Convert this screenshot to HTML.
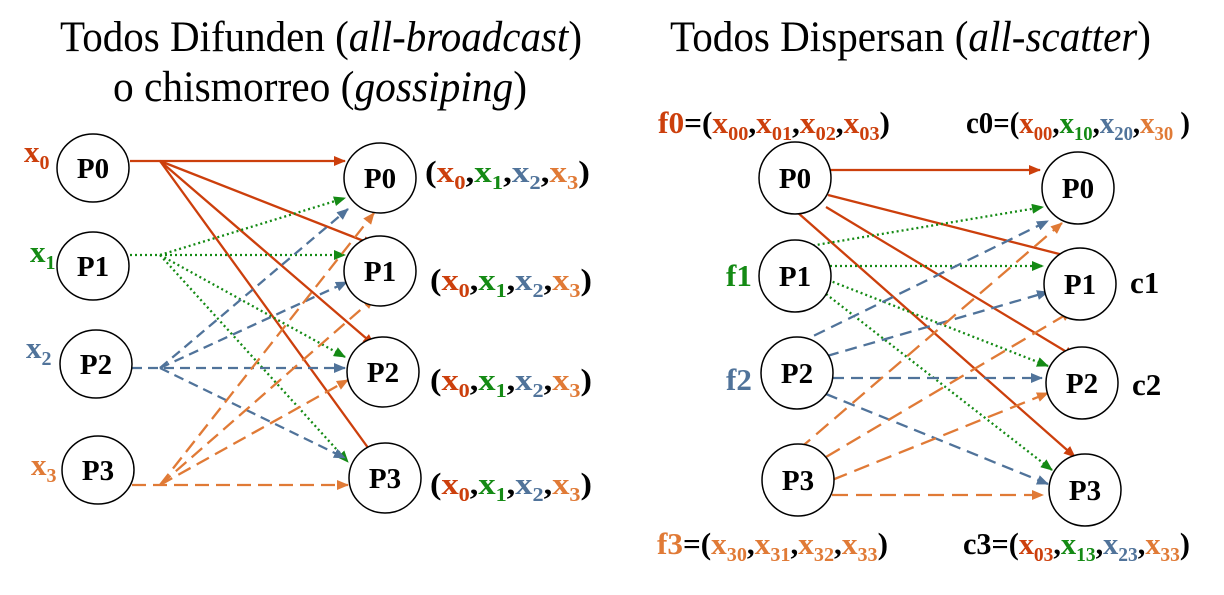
<!DOCTYPE html>
<html><head><meta charset="utf-8"><style>
html,body{margin:0;padding:0;background:#fff;width:1224px;height:595px;overflow:hidden}
svg{display:block}
.t{font-family:"Liberation Serif",serif;font-size:43px;fill:#000}
.n{font-family:"Liberation Serif",serif;font-size:29px;font-weight:bold;fill:#000;text-anchor:middle}
.l{font-family:"Liberation Serif",serif;font-size:31px;font-weight:bold}
.s{font-size:20px}
</style></head><body>
<svg width="1224" height="595" viewBox="0 0 1224 595" xmlns="http://www.w3.org/2000/svg">
<defs>
<marker id="ar" markerWidth="12" markerHeight="10" refX="11" refY="5" orient="auto" markerUnits="userSpaceOnUse"><path d="M0,0L12,5L0,10z" fill="#cc3f0c"/></marker>
<marker id="ag" markerWidth="12" markerHeight="10" refX="11" refY="5" orient="auto" markerUnits="userSpaceOnUse"><path d="M0,0L12,5L0,10z" fill="#148a14"/></marker>
<marker id="ab" markerWidth="12" markerHeight="10" refX="11" refY="5" orient="auto" markerUnits="userSpaceOnUse"><path d="M0,0L12,5L0,10z" fill="#50739a"/></marker>
<marker id="ao" markerWidth="12" markerHeight="10" refX="11" refY="5" orient="auto" markerUnits="userSpaceOnUse"><path d="M0,0L12,5L0,10z" fill="#e07a36"/></marker>
</defs>
<text class="t" x="60" y="51" textLength="522" lengthAdjust="spacingAndGlyphs">Todos Difunden (<tspan font-style="italic">all-broadcast</tspan>)</text>
<text class="t" x="113" y="101" textLength="414" lengthAdjust="spacingAndGlyphs">o chismorreo (<tspan font-style="italic">gossiping</tspan>)</text>
<text class="t" x="670" y="51" textLength="481" lengthAdjust="spacingAndGlyphs">Todos Dispersan (<tspan font-style="italic">all-scatter</tspan>)</text>

<g fill="none" stroke-width="2.3">
<g stroke="#cc3f0c">
<line x1="130" y1="161" x2="345" y2="161" marker-end="url(#ar)"/>
<line x1="160" y1="161" x2="374" y2="245" marker-end="url(#ar)"/>
<line x1="160" y1="161" x2="374" y2="345" marker-end="url(#ar)"/>
<line x1="160" y1="161" x2="374" y2="456" marker-end="url(#ar)"/>
</g>
<g stroke="#148a14" stroke-dasharray="2,3">
<line x1="130" y1="255" x2="160" y2="255"/>
<line x1="160" y1="255" x2="345" y2="198" marker-end="url(#ag)"/>
<line x1="160" y1="255" x2="345" y2="255" marker-end="url(#ag)"/>
<line x1="160" y1="255" x2="345" y2="357" marker-end="url(#ag)"/>
<line x1="160" y1="255" x2="348" y2="462" marker-end="url(#ag)"/>
</g>
<g stroke="#50739a" stroke-dasharray="10,6">
<line x1="160" y1="368" x2="348" y2="209" marker-end="url(#ab)"/>
<line x1="160" y1="368" x2="347" y2="282" marker-end="url(#ab)"/>
<line x1="132" y1="368" x2="345" y2="368" marker-end="url(#ab)"/>
<line x1="160" y1="368" x2="345" y2="458" marker-end="url(#ab)"/>
</g>
<g stroke="#e07a36" stroke-dasharray="14,7">
<line x1="160" y1="485" x2="374" y2="213" marker-end="url(#ao)"/>
<line x1="160" y1="485" x2="374" y2="298" marker-end="url(#ao)"/>
<line x1="160" y1="485" x2="348" y2="380" marker-end="url(#ao)"/>
<line x1="132" y1="485" x2="348" y2="485" marker-end="url(#ao)"/>
</g>
</g>
<g fill="#fff" stroke="#000" stroke-width="1.5">
<ellipse cx="93" cy="168" rx="36" ry="34"/>
<ellipse cx="93" cy="266" rx="36" ry="34"/>
<ellipse cx="96" cy="364" rx="36" ry="34"/>
<ellipse cx="98" cy="470" rx="36" ry="34"/>
<ellipse cx="380" cy="178" rx="36" ry="35"/>
<ellipse cx="380" cy="271" rx="36" ry="35"/>
<ellipse cx="383" cy="372" rx="36" ry="35"/>
<ellipse cx="385" cy="478" rx="36" ry="35"/>
</g>
<text class="n" x="93" y="178">P0</text>
<text class="n" x="93" y="276">P1</text>
<text class="n" x="96" y="374">P2</text>
<text class="n" x="98" y="480">P3</text>
<text class="n" x="380" y="188">P0</text>
<text class="n" x="380" y="281">P1</text>
<text class="n" x="383" y="382">P2</text>
<text class="n" x="385" y="488">P3</text>
<text class="l" x="24" y="162" fill="#cc3f0c">x<tspan class="s" dy="7">0</tspan></text>
<text class="l" x="30" y="262" fill="#148a14">x<tspan class="s" dy="7">1</tspan></text>
<text class="l" x="26" y="358" fill="#50739a">x<tspan class="s" dy="7">2</tspan></text>
<text class="l" x="31" y="475" fill="#e07a36">x<tspan class="s" dy="7">3</tspan></text>

<text class="l" x="425" y="182" textLength="165" lengthAdjust="spacingAndGlyphs">(<tspan fill="#cc3f0c">x</tspan><tspan class="s" fill="#cc3f0c" dy="7">0</tspan><tspan dy="-7">,</tspan><tspan fill="#148a14">x</tspan><tspan class="s" fill="#148a14" dy="7">1</tspan><tspan dy="-7">,</tspan><tspan fill="#50739a">x</tspan><tspan class="s" fill="#50739a" dy="7">2</tspan><tspan dy="-7">,</tspan><tspan fill="#e07a36">x</tspan><tspan class="s" fill="#e07a36" dy="7">3</tspan><tspan dy="-7">)</tspan></text>
<text class="l" x="430" y="290" textLength="162" lengthAdjust="spacingAndGlyphs">(<tspan fill="#cc3f0c">x</tspan><tspan class="s" fill="#cc3f0c" dy="7">0</tspan><tspan dy="-7">,</tspan><tspan fill="#148a14">x</tspan><tspan class="s" fill="#148a14" dy="7">1</tspan><tspan dy="-7">,</tspan><tspan fill="#50739a">x</tspan><tspan class="s" fill="#50739a" dy="7">2</tspan><tspan dy="-7">,</tspan><tspan fill="#e07a36">x</tspan><tspan class="s" fill="#e07a36" dy="7">3</tspan><tspan dy="-7">)</tspan></text>
<text class="l" x="430" y="390" textLength="162" lengthAdjust="spacingAndGlyphs">(<tspan fill="#cc3f0c">x</tspan><tspan class="s" fill="#cc3f0c" dy="7">0</tspan><tspan dy="-7">,</tspan><tspan fill="#148a14">x</tspan><tspan class="s" fill="#148a14" dy="7">1</tspan><tspan dy="-7">,</tspan><tspan fill="#50739a">x</tspan><tspan class="s" fill="#50739a" dy="7">2</tspan><tspan dy="-7">,</tspan><tspan fill="#e07a36">x</tspan><tspan class="s" fill="#e07a36" dy="7">3</tspan><tspan dy="-7">)</tspan></text>
<text class="l" x="430" y="494" textLength="162" lengthAdjust="spacingAndGlyphs">(<tspan fill="#cc3f0c">x</tspan><tspan class="s" fill="#cc3f0c" dy="7">0</tspan><tspan dy="-7">,</tspan><tspan fill="#148a14">x</tspan><tspan class="s" fill="#148a14" dy="7">1</tspan><tspan dy="-7">,</tspan><tspan fill="#50739a">x</tspan><tspan class="s" fill="#50739a" dy="7">2</tspan><tspan dy="-7">,</tspan><tspan fill="#e07a36">x</tspan><tspan class="s" fill="#e07a36" dy="7">3</tspan><tspan dy="-7">)</tspan></text>

<g fill="none" stroke-width="2.3">
<g stroke="#cc3f0c">
<line x1="830" y1="170" x2="1040" y2="170" marker-end="url(#ar)"/>
<line x1="828" y1="195" x2="1075" y2="258" marker-end="url(#ar)"/>
<line x1="826" y1="207" x2="1075" y2="357" marker-end="url(#ar)"/>
<line x1="797" y1="212" x2="1075" y2="457" marker-end="url(#ar)"/>
</g>
<g stroke="#148a14" stroke-dasharray="2,3">
<line x1="798" y1="248" x2="1043" y2="207" marker-end="url(#ag)"/>
<line x1="830" y1="266" x2="1043" y2="266" marker-end="url(#ag)"/>
<line x1="828" y1="280" x2="1048" y2="366" marker-end="url(#ag)"/>
<line x1="826" y1="294" x2="1052" y2="470" marker-end="url(#ag)"/>
</g>
<g stroke="#50739a" stroke-dasharray="12,7">
<line x1="797" y1="344" x2="1048" y2="221" marker-end="url(#ab)"/>
<line x1="827" y1="356" x2="1048" y2="292" marker-end="url(#ab)"/>
<line x1="832" y1="378" x2="1042" y2="378" marker-end="url(#ab)"/>
<line x1="826" y1="394" x2="1048" y2="484" marker-end="url(#ab)"/>
</g>
<g stroke="#e07a36" stroke-dasharray="16,8">
<line x1="798" y1="450" x2="1062" y2="223" marker-end="url(#ao)"/>
<line x1="826" y1="457" x2="1072" y2="311" marker-end="url(#ao)"/>
<line x1="832" y1="480" x2="1048" y2="393" marker-end="url(#ao)"/>
<line x1="832" y1="495" x2="1043" y2="495" marker-end="url(#ao)"/>
</g>
</g>
<g fill="#fff" stroke="#000" stroke-width="1.5">
<ellipse cx="795" cy="178" rx="36" ry="36"/>
<ellipse cx="795" cy="276" rx="36" ry="36"/>
<ellipse cx="797" cy="373" rx="36" ry="36"/>
<ellipse cx="798" cy="480" rx="36" ry="36"/>
<ellipse cx="1078" cy="188" rx="36" ry="36"/>
<ellipse cx="1080" cy="284" rx="36" ry="36"/>
<ellipse cx="1082" cy="383" rx="36" ry="36"/>
<ellipse cx="1085" cy="490" rx="36" ry="36"/>
</g>
<text class="n" x="795" y="188">P0</text>
<text class="n" x="795" y="286">P1</text>
<text class="n" x="797" y="383">P2</text>
<text class="n" x="798" y="490">P3</text>
<text class="n" x="1078" y="198">P0</text>
<text class="n" x="1080" y="294">P1</text>
<text class="n" x="1082" y="393">P2</text>
<text class="n" x="1085" y="500">P3</text>
<text class="l" x="1130" y="293">c1</text>
<text class="l" x="1132" y="395">c2</text>
<text class="l" x="726" y="286" fill="#148a14">f1</text>
<text class="l" x="726" y="390" fill="#50739a">f2</text>

<text class="l" x="658" y="133" textLength="232" lengthAdjust="spacingAndGlyphs"><tspan fill="#cc3f0c">f0</tspan>=(<tspan fill="#cc3f0c">x</tspan><tspan class="s" fill="#cc3f0c" dy="7">00</tspan><tspan dy="-7">,</tspan><tspan fill="#cc3f0c">x</tspan><tspan class="s" fill="#cc3f0c" dy="7">01</tspan><tspan dy="-7">,</tspan><tspan fill="#cc3f0c">x</tspan><tspan class="s" fill="#cc3f0c" dy="7">02</tspan><tspan dy="-7">,</tspan><tspan fill="#cc3f0c">x</tspan><tspan class="s" fill="#cc3f0c" dy="7">03</tspan><tspan dy="-7">)</tspan></text>
<text class="l" x="966" y="133" textLength="224" lengthAdjust="spacingAndGlyphs">c0=(<tspan fill="#cc3f0c">x</tspan><tspan class="s" fill="#cc3f0c" dy="7">00</tspan><tspan dy="-7">,</tspan><tspan fill="#148a14">x</tspan><tspan class="s" fill="#148a14" dy="7">10</tspan><tspan dy="-7">,</tspan><tspan fill="#50739a">x</tspan><tspan class="s" fill="#50739a" dy="7">20</tspan><tspan dy="-7">,</tspan><tspan fill="#e07a36">x</tspan><tspan class="s" fill="#e07a36" dy="7">30</tspan><tspan dy="-7"> )</tspan></text>
<text class="l" x="657" y="554" textLength="231" lengthAdjust="spacingAndGlyphs"><tspan fill="#e07a36">f3</tspan>=(<tspan fill="#e07a36">x</tspan><tspan class="s" fill="#e07a36" dy="7">30</tspan><tspan dy="-7">,</tspan><tspan fill="#e07a36">x</tspan><tspan class="s" fill="#e07a36" dy="7">31</tspan><tspan dy="-7">,</tspan><tspan fill="#e07a36">x</tspan><tspan class="s" fill="#e07a36" dy="7">32</tspan><tspan dy="-7">,</tspan><tspan fill="#e07a36">x</tspan><tspan class="s" fill="#e07a36" dy="7">33</tspan><tspan dy="-7">)</tspan></text>
<text class="l" x="963" y="554" textLength="227" lengthAdjust="spacingAndGlyphs">c3=(<tspan fill="#cc3f0c">x</tspan><tspan class="s" fill="#cc3f0c" dy="7">03</tspan><tspan dy="-7">,</tspan><tspan fill="#148a14">x</tspan><tspan class="s" fill="#148a14" dy="7">13</tspan><tspan dy="-7">,</tspan><tspan fill="#50739a">x</tspan><tspan class="s" fill="#50739a" dy="7">23</tspan><tspan dy="-7">,</tspan><tspan fill="#e07a36">x</tspan><tspan class="s" fill="#e07a36" dy="7">33</tspan><tspan dy="-7">)</tspan></text>
</svg>
</body></html>
